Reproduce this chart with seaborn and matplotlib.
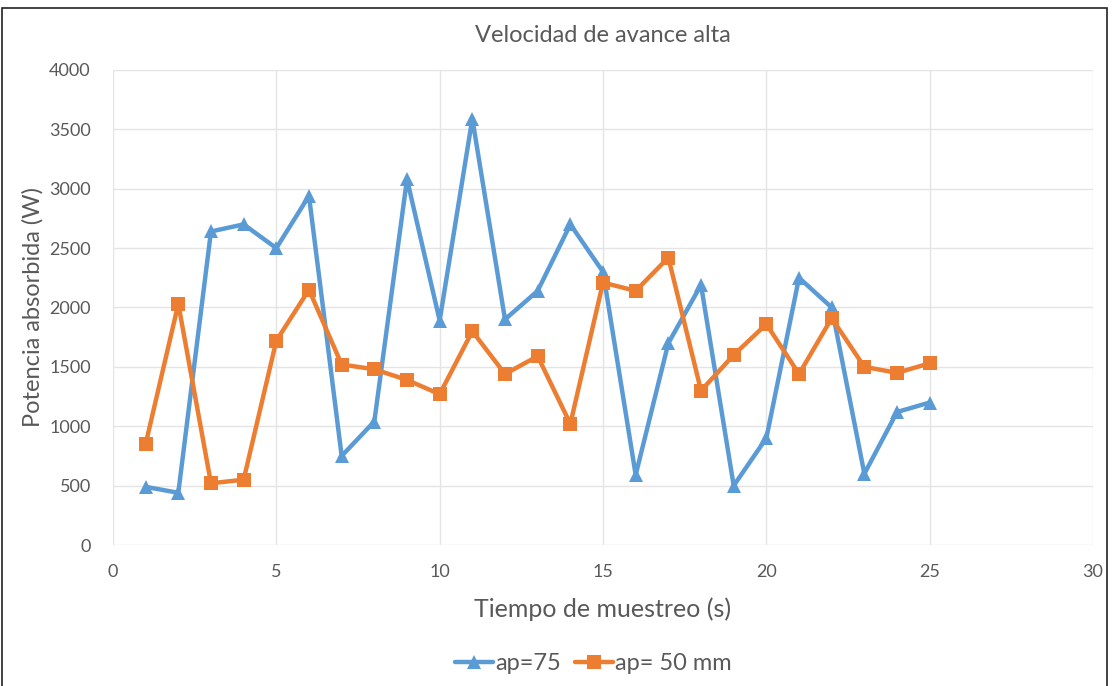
import numpy as np
import pandas as pd
import matplotlib
matplotlib.use("Agg")
import matplotlib.pyplot as plt
import seaborn as sns
from matplotlib.patches import Rectangle

# Sampling time (s)
tiempo = list(range(1, 26))

# Absorbed power (W) for each cutting depth
potencia_ap75 = [490, 440, 2640, 2700, 2500, 2940, 750, 1040, 3080, 1890,
                 3590, 1900, 2140, 2700, 2300, 590, 1700, 2190, 500, 900,
                 2250, 2000, 600, 1120, 1200]
potencia_ap50 = [850, 2030, 520, 550, 1720, 2150, 1520, 1480, 1390, 1270,
                 1800, 1440, 1590, 1020, 2210, 2140, 2420, 1300, 1600, 1860,
                 1440, 1910, 1500, 1450, 1530]

serie_labels = ["ap=75", "ap= 50 mm"]
x_ticks = [0, 5, 10, 15, 20, 25, 30]
y_ticks = [0, 500, 1000, 1500, 2000, 2500, 3000, 3500, 4000]

df = pd.DataFrame({
    "Tiempo": tiempo * 2,
    "Potencia": potencia_ap75 + potencia_ap50,
    "Serie": [serie_labels[0]] * len(tiempo) + [serie_labels[1]] * len(tiempo),
})

sns.set_theme(style="white")
plt.rcParams["font.family"] = ["Lato", "DejaVu Sans"]

text_gray = "#595959"
grid_gray = "#E4E4E4"
palette = {serie_labels[0]: "#5B9BD5", serie_labels[1]: "#ED7D31"}
markers = {serie_labels[0]: "^", serie_labels[1]: "s"}

fig = plt.figure(figsize=(11.14, 6.86), dpi=100)
ax = fig.add_axes([0.1014, 0.2055, 0.8798, 0.6925])

sns.lineplot(data=df, x="Tiempo", y="Potencia", hue="Serie", style="Serie",
             palette=palette, markers=markers, dashes=False, linewidth=3.2,
             markersize=10, markeredgewidth=0, ax=ax, legend=True)

ax.set_xlim(0, 30)
ax.set_ylim(0, 4000)
ax.set_xticks(x_ticks)
ax.set_yticks(y_ticks)
ax.grid(True, color=grid_gray, linewidth=1)
ax.set_axisbelow(True)
for side in ["top", "right", "bottom", "left"]:
    ax.spines[side].set_visible(False)
ax.tick_params(axis="both", length=0, labelsize=13, labelcolor=text_gray)
ax.tick_params(axis="x", pad=14)
ax.tick_params(axis="y", pad=16)

ax.set_xlabel("Tiempo de muestreo (s)", fontsize=18, color=text_gray, labelpad=12)
ax.set_ylabel("Potencia absorbida (W)", fontsize=17, color=text_gray, labelpad=4)
ax.set_title("Velocidad de avance alta", fontsize=17, color=text_gray, pad=20)

handles, labels = ax.get_legend_handles_labels()
ax.legend(handles, labels, loc="center", bbox_to_anchor=(0.49, -0.25),
          ncol=2, frameon=False, fontsize=17, labelcolor=text_gray,
          handlelength=1.6, columnspacing=0.6, handletextpad=0.1)

# Outer chart frame
fig.patches.append(Rectangle((0.002, -0.01), 0.992, 0.998, transform=fig.transFigure,
                             fill=False, edgecolor="#222222", linewidth=1.2))

fig.savefig("out.png", dpi=100)
